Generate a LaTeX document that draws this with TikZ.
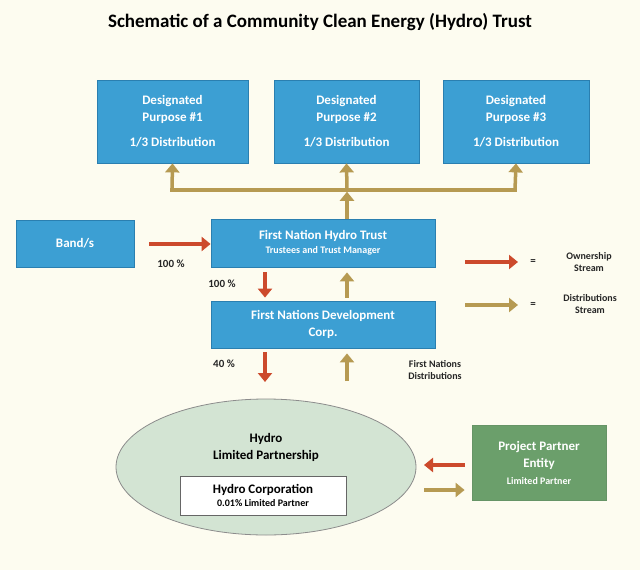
\documentclass[tikz,border=0pt]{standalone}
\usepackage{fontspec}
\setmainfont{Carlito}
\usetikzlibrary{shapes.geometric,arrows.meta}
\definecolor{bg}{HTML}{FDFCF0}
\definecolor{bluef}{HTML}{3C9FD3}
\definecolor{blued}{HTML}{2A7FB0}
\definecolor{tan}{HTML}{B69A52}
\definecolor{redA}{HTML}{CC4A2C}
\definecolor{ell}{HTML}{D3E4D3}
\definecolor{grn}{HTML}{6B9F6B}
\begin{document}
\begin{tikzpicture}[x=1pt,y=-1pt,
 box/.style={draw=blued,fill=bluef,line width=0.8pt,text=white,font=\bfseries\fontsize{13}{17}\selectfont,align=center,inner sep=0pt},
 ra/.style={draw=redA,line width=3.5pt,-{Triangle[length=9pt,width=14pt]}},
 ta/.style={draw=tan,line width=3.5pt,-{Triangle[length=9pt,width=14pt]}},
 lab/.style={font=\bfseries\fontsize{11}{13}\selectfont,align=center,text=black!85}]
\fill[bg] (0,0) rectangle (640,570);
\useasboundingbox (0,0) rectangle (640,570);
\node[font=\bfseries\fontsize{19}{22}\selectfont] (title) at (320,22) {Schematic of a Community Clean Energy (Hydro) Trust};
\node[box,minimum width=151pt,minimum height=83pt] (d1) at (172.5,121.5) {Designated\\Purpose \#1\\[8pt]1/3 Distribution};
\node[box,minimum width=145pt,minimum height=83pt] (d2) at (346.5,121.5) {Designated\\Purpose \#2\\[8pt]1/3 Distribution};
\node[box,minimum width=146pt,minimum height=83pt] (d3) at (516,121.5) {Designated\\Purpose \#3\\[8pt]1/3 Distribution};
\node[box,minimum width=118pt,minimum height=47pt] (band) at (75,243.5) {Band/s};
\node[box,minimum width=224pt,minimum height=48pt] (trust) at (323,243) {First Nation Hydro Trust\\[-3pt]{\fontsize{10}{12}\selectfont Trustees and Trust Manager}};
\node[box,minimum width=224pt,minimum height=47pt] (dev) at (323,324.5) {First Nations Development\\Corp.};
\node[ellipse,draw=black!45,fill=ell,line width=0.8pt,minimum width=300pt,minimum height=136pt] (lp) at (266,467) {};
\node[font=\bfseries\fontsize{13}{17}\selectfont,align=center] (lpt) at (266,447) {Hydro\\Limited Partnership};
\node[draw=black!60,fill=white,minimum width=166pt,minimum height=39pt,align=center,font=\bfseries\fontsize{13}{14}\selectfont,inner sep=0pt] (hc) at (263,495.5) {Hydro Corporation\\[-1pt]{\fontsize{10}{11}\selectfont 0.01\% Limited Partner}};
\node[draw=green!30!black!60,fill=grn,line width=0.8pt,minimum width=134pt,minimum height=75pt,text=white,align=center,font=\bfseries\fontsize{13}{17}\selectfont,inner sep=0pt] (pp) at (539,462.5) {Project Partner\\Entity\\[0pt]{\fontsize{10}{11}\selectfont Limited Partner}};
% distribution arrows
\coordinate (bl) at (172,190); \coordinate (br) at (515,190); \coordinate (bm) at (347,190);
\draw[tan,line width=3.5pt,line cap=butt] ([xshift=-1.75pt]bl) -- ([xshift=1.75pt]br);
\draw[ta] (bl) -- (d1.south);
\draw[ta] (bm) -- (d2.south);
\draw[ta] (br) -- (d3.south);
\draw[ta] (trust.north -| bm) -- ([yshift=-1.75pt]bm);
% ownership
\coordinate (b1) at (149,244);
\draw[ra] (b1) -- (trust.west |- b1);
\node[lab] (p1) at (171,264) {100 \%};
\draw[ra] ([yshift=-5pt]trust.south -| 265,0) -- ([yshift=3pt]dev.north -| 265,0);
\node[lab] (p2) at (222,284) {100 \%};
\draw[ta] ([yshift=3pt]dev.north -| 347,0) -- ([yshift=-5pt]trust.south -| 347,0);
\draw[ra] ([yshift=-4pt]dev.south -| 265,0) -- (265,382);
\node[lab] (p3) at (224,364) {40 \%};
\draw[ta] (347,381) -- ([yshift=-5pt]dev.south -| 347,0);
\node[lab,font=\bfseries\fontsize{10}{12}\selectfont] (fnd) at (435,370) {First Nations\\Distributions};
% legend
\coordinate (l1a) at (465,262); \coordinate (l1b) at (518,262);
\draw[ra] (l1a) -- (l1b);
\node[lab] (eq1) at (533,262) {=};
\node[lab,font=\bfseries\fontsize{10}{12}\selectfont] (own) at (589,262) {Ownership\\Stream};
\coordinate (l2a) at (465,305); \coordinate (l2b) at (518,305);
\draw[ta] (l2a) -- (l2b);
\node[lab] (eq2) at (533,305) {=};
\node[lab,font=\bfseries\fontsize{10}{12}\selectfont] (dst) at (590,304) {Distributions\\Stream};
% partner arrows
\draw[ra] ([xshift=-7pt]pp.west |- 0,465) -- (424,465);
\draw[ta] (424,490) -- ([xshift=-7pt]pp.west |- 0,490);
\end{tikzpicture}
\end{document}
